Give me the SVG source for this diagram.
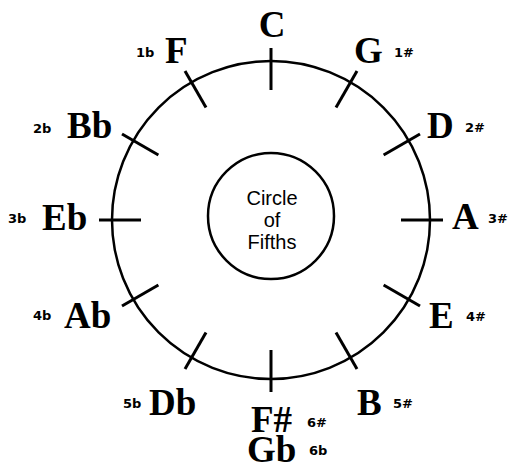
<svg xmlns="http://www.w3.org/2000/svg" width="511" height="468" viewBox="0 0 511 468">
<style>
.ring{fill:none;stroke:#000;stroke-width:2.5}
.tick{stroke:#000;stroke-width:3;stroke-linecap:butt}
.key{font-family:"Liberation Serif","Times New Roman",serif;font-weight:bold;font-size:37px;fill:#000}
.sig{font-family:"DejaVu Sans",Verdana,sans-serif;font-weight:bold;font-size:13px;fill:#000}
.mid{font-family:"Liberation Sans",Arial,sans-serif;font-size:20px;fill:#000;text-anchor:middle}
</style>
<rect width="511" height="468" fill="#fff"/>
<g id="outer-circle"><circle class="ring" cx="271" cy="220" r="159"/></g>
<g id="center">
<circle class="ring" cx="271" cy="216" r="63" stroke-width="2"/>
<text class="mid" x="272" y="205">Circle</text>
<text class="mid" x="272" y="227">of</text>
<text class="mid" x="272" y="249">Fifths</text>
</g>
<g id="connectors">
<line class="tick" x1="271" y1="90" x2="271" y2="48"/>
<line class="tick" x1="336" y1="107.4" x2="357" y2="71"/>
<line class="tick" x1="383.6" y1="155" x2="420" y2="134"/>
<line class="tick" x1="401" y1="220" x2="443" y2="220"/>
<line class="tick" x1="383.6" y1="285" x2="420" y2="306"/>
<line class="tick" x1="336" y1="332.6" x2="357" y2="369"/>
<line class="tick" x1="271" y1="350" x2="271" y2="392"/>
<line class="tick" x1="206" y1="332.6" x2="185" y2="369"/>
<line class="tick" x1="158.4" y1="285" x2="122" y2="306"/>
<line class="tick" x1="141" y1="220" x2="99" y2="220"/>
<line class="tick" x1="158.4" y1="155" x2="122" y2="134"/>
<line class="tick" x1="206" y1="107.4" x2="185" y2="71"/>
</g>
<g id="C"><text class="key" x="272" y="37" text-anchor="middle">C</text></g>
<g id="G"><text class="key" x="354" y="63">G</text><text class="sig" x="394" y="57">1#</text></g>
<g id="D"><text class="key" x="427" y="138">D</text><text class="sig" x="465" y="132">2#</text></g>
<g id="A"><text class="key" x="452" y="229">A</text><text class="sig" x="488" y="223">3#</text></g>
<g id="E"><text class="key" x="429" y="328">E</text><text class="sig" x="466" y="321">4#</text></g>
<g id="B"><text class="key" x="357" y="415">B</text><text class="sig" x="393" y="408">5#</text></g>
<g id="FsGb"><text class="key" x="251" y="432">F#</text><text class="sig" x="307" y="427">6#</text><text class="key" x="247" y="462">Gb</text><text class="sig" x="309" y="455">6b</text></g>
<g id="Db"><text class="key" x="149" y="415">Db</text><text class="sig" x="123" y="408">5b</text></g>
<g id="Ab"><text class="key" x="64" y="328">Ab</text><text class="sig" x="33" y="320">4b</text></g>
<g id="Eb"><text class="key" x="42" y="230">Eb</text><text class="sig" x="8" y="223">3b</text></g>
<g id="Bb"><text class="key" x="67" y="138">Bb</text><text class="sig" x="33" y="133">2b</text></g>
<g id="F"><text class="key" x="165" y="63">F</text><text class="sig" x="136" y="57">1b</text></g>
</svg>
